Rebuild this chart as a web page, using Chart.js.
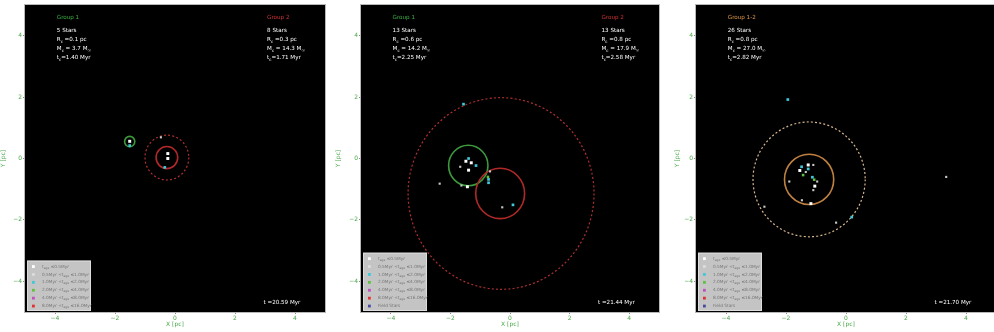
<!DOCTYPE html>
<html>
<head>
<meta charset="utf-8">
<script src="https://cdn.jsdelivr.net/npm/chart.js@4.4.1/dist/chart.umd.min.js"></script>
<style>
  html, body { margin: 0; padding: 0; background: #fff; width: 994px; height: 332px; overflow: hidden; }
  canvas { position: absolute; top: 0; }
</style>
</head>
<body>
<canvas id="c1" width="330" height="332" style="left:0"></canvas>
<canvas id="c2" width="329" height="332" style="left:335px"></canvas>
<canvas id="c3" width="326" height="332" style="left:674px"></canvas>
<script>
// ---- data (one entry per panel) ----
const axisTicks = [-4, -2, 0, 2, 4];

const whiteStars = [
  [[-1.51, 0.56], [-0.24, 0.16], [-0.24, 0.0]],
  [[-1.48, -0.09], [-1.3, -0.14], [-1.39, -0.38], [-1.43, -0.92]],
  [[-1.04, -0.9], [-1.17, -1.47], [-1.54, -0.39], [-1.26, -0.21]],
];
const grayStars = [
  [[-0.47, 0.69]],
  [[-1.67, -0.27], [-0.67, -0.42], [-2.36, -0.82], [-0.26, -1.59], [-1.63, -0.88]],
  [[3.34, -0.6], [-2.72, -1.57], [-0.33, -2.09], [-1.09, -0.21], [-1.34, -0.44],
   [-0.96, -0.75], [-1.09, -1.03], [-1.89, -0.75], [-1.47, -1.36]],
];
const cyanStars = [
  [[-1.51, 0.42], [-0.34, -0.29]],
  [[-1.56, 1.77], [-1.39, 0.0], [-1.14, -0.23], [-0.72, -0.68], [-0.72, -0.79], [0.1, -1.51]],
  [[-1.94, 1.92], [0.19, -1.91], [-1.48, -0.27], [-1.26, -0.34], [-1.12, -0.61]],
];
const greenStars = [
  [],
  [[-0.74, -0.6]],
  [[-1.43, -0.54], [-1.06, -0.69]],
];

// circles: [x centre, y centre, radius] in pc
const solidCircles = [
  [[-1.51, 0.55, 0.17], [-0.27, 0.03, 0.36]],
  [[-1.4, -0.23, 0.66], [-0.33, -1.14, 0.82]],
  [[-1.23, -0.68, 0.82]],
];
const dashedCircles = [
  [[-0.27, 0.03, 0.73]],
  [[-0.3, -1.14, 3.12]],
  [[-1.23, -0.68, 1.87]],
];

const groupNames = [["Group 1", "Group 2"], ["Group 1", "Group 2"], ["Group 1-2"]];
const groupStars = [[5, 8], [13, 13], [26]];
const groupRc = [["0.1", "0.3"], ["0.6", "0.8"], ["0.8"]];
const groupMc = [["3.7", "14.3"], ["14.2", "17.9"], ["27.0"]];
const groupTc = [["1.40", "1.71"], ["2.25", "2.58"], ["2.82"]];
const snapTimes = ["20.59", "21.44", "21.70"];

const ageBins = [
  "t_{age} \u22640.5Myr",
  "0.5Myr <t_{age} \u22641.0Myr",
  "1.0Myr <t_{age} \u22642.0Myr",
  "2.0Myr <t_{age} \u22644.0Myr",
  "4.0Myr <t_{age} \u22648.0Myr",
  "8.0Myr <t_{age} \u226416.0Myr",
  "Field Stars",
];
const legendRows = [6, 7, 7];

// ---- styles ----
const FONT = "'DejaVu Sans', sans-serif";
const AXIS_GREEN = "#4aa84a";
const ageColors = ["#ffffff", "#dcdcdc", "#40c8d8", "#60c040", "#c050c0", "#e03030", "#4848a0"];
const groupColors = [["#3c9a3c", "#b02828"], ["#3c9a3c", "#b02828"], ["#c08040"]];
const titleColors = [["#3cb043", "#d03030"], ["#3cb043", "#d03030"], ["#e09848"]];
const dashedColors = ["#b03030", "#b03030", "#d8b890"];

function pts(list) {
  return list.map(p => ({ x: p[0], y: p[1] }));
}

// text with _{sub} parts
function drawRich(ctx, str, x, y, size, color) {
  const parts = str.split(/(_\{[^}]*\})/);
  let cx = x;
  ctx.fillStyle = color;
  ctx.textAlign = "left";
  ctx.textBaseline = "middle";
  for (const p of parts) {
    if (!p) continue;
    if (p.startsWith("_{")) {
      const t = p.slice(2, -1);
      ctx.font = (size * 0.7) + "px " + FONT;
      ctx.fillText(t, cx, y + size * 0.3);
      cx += ctx.measureText(t).width;
    } else {
      ctx.font = size + "px " + FONT;
      ctx.fillText(p, cx, y);
      cx += ctx.measureText(p).width;
    }
  }
}

function panelPlugin(idx) {
  return {
    id: "panel" + idx,
    beforeDatasetsDraw(chart) {
      const { ctx, chartArea: a, scales } = chart;
      const sx = scales.x, sy = scales.y;
      ctx.save();
      ctx.fillStyle = "#000";
      ctx.fillRect(a.left, a.top, a.right - a.left, a.bottom - a.top);
      ctx.beginPath();
      ctx.rect(a.left, a.top, a.right - a.left, a.bottom - a.top);
      ctx.clip();

      const ring = (c, color, width, dash) => {
        const px = sx.getPixelForValue(c[0]), py = sy.getPixelForValue(c[1]);
        const rx = Math.abs(sx.getPixelForValue(c[0] + c[2]) - px);
        const ry = Math.abs(sy.getPixelForValue(c[1] + c[2]) - py);
        ctx.strokeStyle = color;
        ctx.lineWidth = width;
        ctx.setLineDash(dash);
        ctx.beginPath();
        ctx.ellipse(px, py, rx, ry, 0, 0, Math.PI * 2);
        ctx.stroke();
      };
      dashedCircles[idx].forEach(c => ring(c, dashedColors[idx], 1.2, [2, 2.2]));
      solidCircles[idx].forEach((c, i) => ring(c, groupColors[idx][i], 1.6, []));
      ctx.restore();
    },
    afterDatasetsDraw(chart) {
      const { ctx, chartArea: a, scales } = chart;
      const sx = scales.x, sy = scales.y;
      ctx.save();

      // group info blocks
      const blockX = [-3.94, 3.07];
      const top = sy.getPixelForValue(4.58);
      groupNames[idx].forEach((name, g) => {
        const x = sx.getPixelForValue(blockX[g]);
        drawRich(ctx, name, x, top, 5.6, titleColors[idx][g]);
        const lines = [
          groupStars[idx][g] + " Stars",
          "R_{c} =" + groupRc[idx][g] + " pc",
          "M_{c} = " + groupMc[idx][g] + " M_{\u2609}",
          "t_{c}=" + groupTc[idx][g] + " Myr",
        ];
        lines.forEach((l, i) => drawRich(ctx, l, x, top + 13 + i * 9, 5.6, "#ffffff"));
      });

      // snapshot time
      drawRich(ctx, "t =" + snapTimes[idx] + " Myr",
        sx.getPixelForValue(2.95), sy.getPixelForValue(-4.68), 5.6, "#ffffff");

      // legend box
      const rows = legendRows[idx];
      const rowH = 7.9;
      const lw = 64, lh = rows * rowH + 3;
      const lx = a.left + 2, ly = a.bottom - 1 - lh;
      ctx.fillStyle = "#c4c4c4";
      ctx.strokeStyle = "#dddddd";
      ctx.lineWidth = 1;
      ctx.fillRect(lx, ly, lw, lh);
      ctx.strokeRect(lx + 0.5, ly + 0.5, lw - 1, lh - 1);
      for (let i = 0; i < rows; i++) {
        const yy = ly + 2 + rowH * (i + 0.5);
        ctx.fillStyle = ageColors[i];
        ctx.fillRect(lx + 5, yy - 1.4, 2.8, 2.8);
        drawRich(ctx, ageBins[i], lx + 15, yy, 4.3, "#767676");
      }

      // frame
      ctx.strokeStyle = "#b8b8b8";
      ctx.lineWidth = 1;
      ctx.strokeRect(a.left - 0.5, a.top - 0.5, a.right - a.left + 1, a.bottom - a.top + 1);
      ctx.restore();
    },
  };
}

function axis(title, fit) {
  return {
    type: "linear",
    min: -5,
    max: 5,
    afterBuildTicks: s => { s.ticks = axisTicks.map(v => ({ value: v })); },
    afterFit: fit,
    grid: { display: true, drawOnChartArea: false, drawTicks: true, tickLength: 2, color: "#888" },
    border: { display: false },
    ticks: {
      color: AXIS_GREEN,
      font: { family: FONT, size: 6 },
      padding: 1,
      maxRotation: 0,
      callback: v => (v < 0 ? "\u2212" + Math.abs(v) : String(v)),
    },
    title: {
      display: true,
      text: title,
      color: AXIS_GREEN,
      font: { family: FONT, size: 6 },
      padding: { top: 0, bottom: 4 },
    },
  };
}

function makePanel(idx, canvasId, yWidth, padRight) {
  const datasets = [
    { data: pts(grayStars[idx]), backgroundColor: "#c8c8c8", pointRadius: 1.5 },
    { data: pts(greenStars[idx]), backgroundColor: ageColors[3], pointRadius: 1.8 },
    { data: pts(cyanStars[idx]), backgroundColor: ageColors[2], pointRadius: 1.9 },
    { data: pts(whiteStars[idx]), backgroundColor: "#ffffff", pointRadius: 2.1 },
  ];
  datasets.forEach(d => {
    d.pointStyle = "rect";
    d.borderWidth = 0;
    d.pointBorderWidth = 0;
  });

  new Chart(document.getElementById(canvasId), {
    type: "scatter",
    data: { datasets },
    options: {
      responsive: false,
      animation: false,
      events: [],
      layout: { padding: { top: 5, right: padRight, left: 0, bottom: 0 } },
      plugins: { legend: { display: false }, tooltip: { enabled: false } },
      scales: {
        x: axis("X [pc]", s => { s.height = 20; }),
        y: axis("Y [pc]", s => { s.width = yWidth; }),
      },
    },
    plugins: [panelPlugin(idx)],
  });
}

makePanel(0, "c1", 25, 5);
makePanel(1, "c2", 26, 5);
makePanel(2, "c3", 22, 4);
</script>
</body>
</html>
